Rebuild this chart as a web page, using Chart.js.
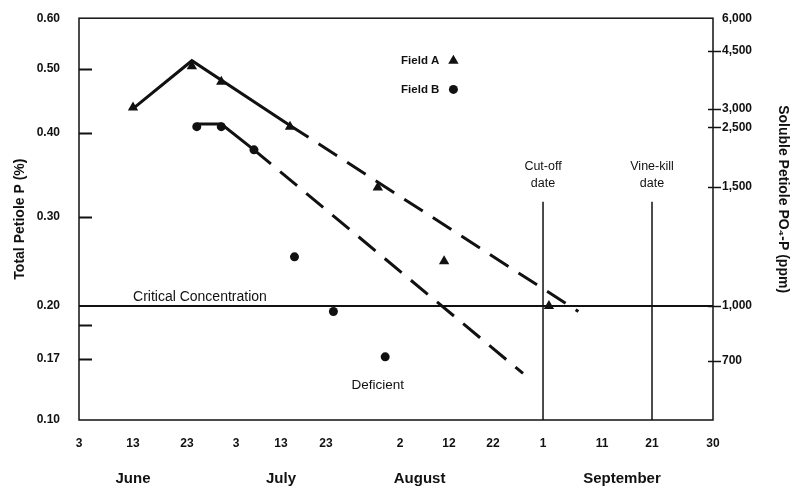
<!DOCTYPE html>
<html>
<head>
<meta charset="utf-8">
<script src="https://cdn.jsdelivr.net/npm/chart.js@4.4.0/dist/chart.umd.min.js"></script>
<style>
  html, body { margin: 0; padding: 0; background: #fff; }
</style>
</head>
<body>
<canvas id="chart" width="796" height="488"></canvas>
<script>
// Dates are 'month/day' strings (June to September)
const fieldADates = ['6/13', '6/24', '6/30', '7/15', '7/30', '8/11', '9/2'];
const fieldAValues = [0.44, 0.505, 0.48, 0.41, 0.335, 0.25, 0.20];
const fieldBDates = ['6/25', '6/30', '7/7', '7/16', '7/24', '7/31'];
const fieldBValues = [0.41, 0.41, 0.38, 0.255, 0.197, 0.171];

// Trend lines drawn over the points (solid part, then dashed projection)
const trendASolidDates = ['6/13', '6/24', '7/15'];
const trendASolidValues = [0.438, 0.516, 0.412];
const trendADashDates = ['7/15', '9/7'];
const trendADashValues = [0.412, 0.197];
const trendBSolidDates = ['6/25', '6/30', '7/7'];
const trendBSolidValues = [0.414, 0.414, 0.38];
const trendBDashDates = ['7/7', '8/28'];
const trendBDashValues = [0.38, 0.153];

const criticalLevel = 0.20;
const cutOffDate = '9/1';
const vineKillDate = '9/21';
const markerLineTop = 0.318;

// Axis ticks. The printed axes are not evenly spaced, so every tick
// also gets its spot along the axis (0 = start, 1 = end).
const dayTickDates = ['6/3', '6/13', '6/23', '7/3', '7/13', '7/23', '8/2', '8/12', '8/22', '9/1', '9/11', '9/21', '9/30'];
const dayTickLabels = ['3', '13', '23', '3', '13', '23', '2', '12', '22', '1', '11', '21', '30'];
const dayTickSpots = [0, 0.0852, 0.1703, 0.2476, 0.3186, 0.3896, 0.5063, 0.5836, 0.6530, 0.7319, 0.8249, 0.9038, 1];
const monthLabels = ['June', 'July', 'August', 'September'];
const monthLabelDates = ['6/13', '7/13', '8/6', '9/15'];

const pTicks = [0.10, 0.17, 0.19, 0.20, 0.30, 0.40, 0.50, 0.60];
const pTickLabels = ['0.10', '0.17', '', '0.20', '0.30', '0.40', '0.50', '0.60'];
const pTickSpots = [0, 0.153, 0.237, 0.284, 0.506, 0.714, 0.874, 1];

const ppmTicks = [400, 700, 1000, 1500, 2500, 3000, 4500, 6000];
const ppmTickLabels = ['', '700', '1,000', '1,500', '2,500', '3,000', '4,500', '6,000'];
const ppmTickSpots = [0, 0.148, 0.284, 0.580, 0.728, 0.775, 0.919, 1];

const monthStart = { 6: 0, 7: 30, 8: 61, 9: 92 };
function dayOf(s) {
    const [m, d] = s.split('/').map(Number);
    return monthStart[m] + d;
}
function toPoints(dates, values) {
    return dates.map((d, i) => ({ x: dayOf(d), y: values[i] }));
}
function knotsOf(values, spots) {
    return values.map((v, i) => [v, spots[i]]);
}

// Linear scale that runs piecewise between its knots
class PiecewiseScale extends Chart.LinearScale {
    static id = 'piecewise';
    static defaults = {};

    buildTicks() {
        const values = this.options.tickValues || this.options.knots.map(k => k[0]);
        return values.map(v => ({ value: v }));
    }

    toDecimal(v) {
        const k = this.options.knots;
        if (v <= k[0][0]) return k[0][1];
        for (let i = 1; i < k.length; i++) {
            if (v <= k[i][0]) {
                const t = (v - k[i - 1][0]) / (k[i][0] - k[i - 1][0]);
                return k[i - 1][1] + t * (k[i][1] - k[i - 1][1]);
            }
        }
        return k[k.length - 1][1];
    }

    getPixelForValue(v) {
        return v == null ? NaN : this.getPixelForDecimal(this.toDecimal(v));
    }

    getValueForPixel(p) {
        const d = this.getDecimalForPixel(p);
        const k = this.options.knots;
        for (let i = 1; i < k.length; i++) {
            if (d <= k[i][1]) {
                const t = (d - k[i - 1][1]) / (k[i][1] - k[i - 1][1]);
                return k[i - 1][0] + t * (k[i][0] - k[i - 1][0]);
            }
        }
        return k[k.length - 1][0];
    }
}
Chart.register(PiecewiseScale);

const FONT = '"Liberation Sans", Arial, Helvetica, sans-serif';
const INK = '#111';
Chart.defaults.font.family = FONT;
Chart.defaults.color = INK;

const dayKnots = knotsOf(dayTickDates.map(dayOf), dayTickSpots);

// Annotations, legend and the extra axis marks
const extras = {
    id: 'extras',
    afterDatasetsDraw(chart) {
        const { ctx, chartArea: a, scales: { x, y } } = chart;
        ctx.save();
        ctx.strokeStyle = INK;
        ctx.fillStyle = INK;

        // frame
        ctx.lineWidth = 1.5;
        ctx.strokeRect(a.left, a.top, a.right - a.left, a.bottom - a.top);

        // short ticks pointing inward on the left axis
        ctx.lineWidth = 2;
        pTicks.forEach(v => {
            if (v <= pTicks[0] || v >= pTicks[pTicks.length - 1] || v === criticalLevel) return;
            const py = Math.round(y.getPixelForValue(v)) + 0.5;
            ctx.beginPath();
            ctx.moveTo(a.left, py);
            ctx.lineTo(a.left + 13, py);
            ctx.stroke();
        });

        // ticks crossing the right axis
        const y2 = chart.scales.y2;
        ctx.lineWidth = 1.5;
        ppmTicks.forEach((v, i) => {
            if (!ppmTickLabels[i] || i === ppmTicks.length - 1) return;
            const py = Math.round(y2.getPixelForValue(v)) + 0.5;
            ctx.beginPath();
            ctx.moveTo(a.right - 5, py);
            ctx.lineTo(a.right + 8, py);
            ctx.stroke();
        });

        // texts
        ctx.textBaseline = 'middle';
        ctx.font = '14px ' + FONT;
        ctx.textAlign = 'left';
        ctx.fillText('Critical Concentration', x.getPixelForValue(dayOf('6/13')), y.getPixelForValue(0.21));
        ctx.font = '13.5px ' + FONT;
        ctx.textAlign = 'center';
        ctx.fillText('Deficient', x.getPixelForValue(dayOf('7/30')), y.getPixelForValue(0.14));

        ctx.font = '12.5px ' + FONT;
        const ty = y.getPixelForValue(0.36);
        [[cutOffDate, 'Cut-off'], [vineKillDate, 'Vine-kill']].forEach(([d, t]) => {
            const px = x.getPixelForValue(dayOf(d));
            ctx.fillText(t, px, ty);
            ctx.fillText('date', px, ty + 17);
        });

        // legend
        ctx.font = 'bold 11.5px ' + FONT;
        ctx.textAlign = 'right';
        const lx = x.getPixelForValue(dayOf('8/13'));
        const la = y.getPixelForValue(0.516);
        const lb = y.getPixelForValue(0.468);
        ctx.fillText('Field A', lx - 14, la);
        ctx.fillText('Field B', lx - 14, lb);
        Chart.helpers.drawPoint(ctx, { pointStyle: 'triangle', radius: 6, borderWidth: 0, rotation: 0 }, lx, la);
        Chart.helpers.drawPoint(ctx, { pointStyle: 'circle', radius: 4.5, borderWidth: 0, rotation: 0 }, lx, lb);

        // right axis title, reads top to bottom
        ctx.save();
        ctx.translate(chart.width - 13, (a.top + a.bottom) / 2 - 20);
        ctx.rotate(Math.PI / 2);
        ctx.textAlign = 'center';
        ctx.font = 'bold 14px ' + FONT;
        ctx.fillText('Soluble Petiole PO\u2084-P (ppm)', 0, 0);
        ctx.restore();

        ctx.restore();
    }
};

const lineStyle = { borderColor: INK, borderWidth: 3, pointRadius: 0, tension: 0, borderJoinStyle: 'miter', fill: false };

new Chart(document.getElementById('chart'), {
    type: 'line',
    data: {
        datasets: [
            { label: 'Critical', data: toPoints(['6/3', '9/30'], [criticalLevel, criticalLevel]), ...lineStyle, borderWidth: 2 },
            { label: 'Cut-off', data: toPoints([cutOffDate, cutOffDate], [markerLineTop, 0.10]), ...lineStyle, borderWidth: 1.5 },
            { label: 'Vine-kill', data: toPoints([vineKillDate, vineKillDate], [markerLineTop, 0.10]), ...lineStyle, borderWidth: 1.5 },
            { label: 'Trend A', data: toPoints(trendASolidDates, trendASolidValues), ...lineStyle },
            { label: 'Trend A proj', data: toPoints(trendADashDates, trendADashValues), ...lineStyle, borderDash: [22, 12] },
            { label: 'Trend B', data: toPoints(trendBSolidDates, trendBSolidValues), ...lineStyle },
            { label: 'Trend B proj', data: toPoints(trendBDashDates, trendBDashValues), ...lineStyle, borderDash: [22, 12] },
            {
                label: 'Field A', data: toPoints(fieldADates, fieldAValues), showLine: false,
                pointStyle: 'triangle', pointRadius: 6, pointBackgroundColor: INK, pointBorderWidth: 0
            },
            {
                label: 'Field B', data: toPoints(fieldBDates, fieldBValues), showLine: false,
                pointStyle: 'circle', pointRadius: 4.5, pointBackgroundColor: INK, pointBorderWidth: 0
            }
        ]
    },
    options: {
        responsive: false,
        animation: false,
        events: [],
        layout: { padding: { top: 15 } },
        plugins: { legend: { display: false }, tooltip: { enabled: false } },
        scales: {
            x: {
                type: 'piecewise', position: 'bottom',
                min: dayKnots[0][0], max: dayKnots[dayKnots.length - 1][0],
                knots: dayKnots,
                grid: { display: false }, border: { display: false },
                ticks: {
                    autoSkip: false, maxRotation: 0, padding: 8,
                    font: { size: 12, weight: 'bold' },
                    callback: (v, i) => dayTickLabels[i]
                },
                afterFit: s => { s.height = 36; }
            },
            month: {
                type: 'piecewise', position: 'bottom', weight: 1,
                min: dayKnots[0][0], max: dayKnots[dayKnots.length - 1][0],
                knots: dayKnots,
                tickValues: monthLabelDates.map(dayOf),
                grid: { display: false }, border: { display: false },
                ticks: {
                    autoSkip: false, maxRotation: 0, padding: 6,
                    font: { size: 15, weight: 'bold' },
                    callback: (v, i) => monthLabels[i]
                },
                afterFit: s => { s.height = 32; }
            },
            y: {
                type: 'piecewise', position: 'left',
                min: pTicks[0], max: pTicks[pTicks.length - 1],
                knots: knotsOf(pTicks, pTickSpots),
                grid: { display: false }, border: { display: false },
                ticks: {
                    autoSkip: false, padding: 11,
                    font: { size: 12, weight: 'bold' },
                    callback: (v, i) => pTickLabels[i]
                },
                title: {
                    display: true, text: 'Total Petiole P (%)',
                    font: { size: 14, weight: 'bold' }, padding: { top: 12, bottom: 0 }
                },
                afterFit: s => { s.width = 79; }
            },
            y2: {
                type: 'piecewise', position: 'right',
                min: ppmTicks[0], max: ppmTicks[ppmTicks.length - 1],
                knots: knotsOf(ppmTicks, ppmTickSpots),
                grid: { display: false }, border: { display: false },
                ticks: {
                    autoSkip: false, padding: 1,
                    font: { size: 12, weight: 'bold' },
                    callback: (v, i) => ppmTickLabels[i]
                },
                afterFit: s => { s.width = 83; }
            }
        }
    },
    plugins: [extras]
});
</script>
</body>
</html>
